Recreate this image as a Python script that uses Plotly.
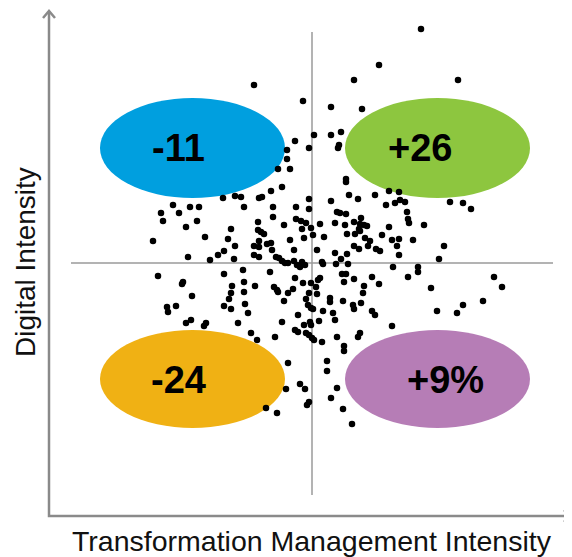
import plotly.graph_objects as go

# Scatter values (horizontal = transformation management intensity, vertical = digital intensity),
# read from the picture in its own pixel-like units, grouped in bands from top to bottom.
band1_x = [421, 379, 354, 458, 254, 303, 331, 362, 314, 331, 341, 295, 309, 339, 338, 287]
band1_y = [29, 65, 80, 80, 85, 101, 107, 109, 135, 135, 132, 141, 148, 145, 148, 150]

band2_x = [287, 278, 290, 346, 346, 282, 271, 349, 375, 389, 399, 262, 223, 235, 241, 259, 309, 358, 331, 400,
           405, 395, 386, 450, 463, 471]
band2_y = [159, 169, 169, 179, 182, 187, 191, 195, 195, 191, 192, 197, 198, 196, 197, 198, 199, 199, 201, 200,
           202, 203, 205, 202, 203, 209]

band3_x = [173, 190, 199, 244, 273, 296, 309, 161, 179, 163, 197, 186, 231, 337, 340, 346, 407, 408, 409, 273,
           258, 296, 301, 306, 284, 320, 335, 345, 354, 361, 360, 364, 367, 424, 389, 311, 359]
band3_y = [205, 207, 207, 207, 207, 207, 209, 213, 213, 221, 221, 227, 229, 212, 213, 214, 212, 219, 223, 217,
           222, 219, 221, 223, 225, 224, 223, 225, 222, 218, 224, 225, 226, 225, 227, 228, 229]

band4_x = [258, 261, 264, 302, 360, 153, 205, 228, 259, 290, 304, 313, 324, 347, 355, 365, 370, 382, 392, 399,
           413, 235, 254, 259, 267, 271, 224, 218, 272, 294, 317, 397, 354, 359, 368, 376, 380, 444, 335, 347,
           399, 188, 210, 234, 254, 259, 341, 439]
band4_y = [230, 232, 234, 229, 231, 241, 237, 239, 241, 240, 238, 235, 237, 234, 234, 238, 241, 235, 240, 239,
           240, 246, 246, 247, 244, 243, 251, 255, 250, 250, 250, 246, 246, 249, 246, 249, 251, 246, 253, 254,
           255, 257, 260, 259, 255, 257, 259, 259]

band5_x = [276, 279, 282, 285, 288, 294, 297, 302, 305, 300]
band5_y = [257, 258, 261, 263, 263, 261, 265, 262, 265, 267]

band6_x = [322, 323, 336, 348, 393, 418, 418, 158, 224, 243, 270, 295, 320, 318, 342, 346, 354, 372, 408, 494]
band6_y = [262, 264, 264, 264, 267, 267, 272, 276, 274, 270, 272, 278, 278, 280, 274, 274, 279, 277, 277, 277]

band7_x = [182, 183, 192, 167, 168, 176, 232, 244, 255, 231, 244, 229, 224, 231, 245, 248, 274, 277, 278, 288,
           293, 303, 311, 316, 344, 364, 379, 363, 309, 317, 284, 306, 330, 330, 343, 353, 354, 361, 308, 311,
           313, 323, 333, 298, 335, 372, 375, 437, 457, 463, 483, 502, 431]
band7_y = [284, 282, 296, 307, 312, 306, 286, 282, 286, 293, 292, 299, 306, 309, 304, 313, 287, 290, 292, 293,
           289, 283, 283, 287, 282, 286, 284, 293, 293, 294, 301, 299, 298, 302, 301, 305, 309, 303, 305, 308,
           309, 311, 313, 315, 320, 311, 315, 311, 313, 305, 301, 287, 288]

band8_x = [186, 191, 206, 204, 238, 282, 319, 310, 311, 304, 295, 298, 306, 309, 312, 314, 322, 251, 257, 275,
           337, 360, 358, 392]
band8_y = [323, 320, 323, 326, 323, 322, 321, 322, 325, 325, 330, 332, 333, 335, 338, 340, 342, 333, 340, 337,
           337, 333, 337, 326]

band9_x = [344, 344, 288, 327, 327, 300, 305, 286, 337, 331, 307, 309, 277, 266, 343, 352]
band9_y = [346, 351, 363, 361, 371, 384, 389, 389, 388, 398, 405, 402, 413, 408, 409, 424]

quadrant_labels = ["-11", "+26", "-24", "+9%"]
x_title = "Transformation Management Intensity"
y_title = "Digital Intensity"

xs = band1_x + band2_x + band3_x + band4_x + band5_x + band6_x + band7_x + band8_x + band9_x
ys = band1_y + band2_y + band3_y + band4_y + band5_y + band6_y + band7_y + band8_y + band9_y
assert len(xs) == len(ys)

# the page body has an 8px margin: the figure starts at (8, 8) in the window
OFF = 8
W, H = 572, 557

fig = go.Figure()
fig.add_trace(go.Scatter(
    x=xs, y=ys, mode="markers",
    marker=dict(size=6.5, color="#000000", line=dict(width=0)),
    hoverinfo="skip", showlegend=False,
))

axis_col = "#8a8a8a"
quad_col = "#9a9a9a"
shapes = []
shapes.append(dict(type="line", x0=312, x1=312, y0=32, y1=495, line=dict(color=quad_col, width=1.5), layer="below"))
shapes.append(dict(type="line", x0=71, x1=553, y0=263, y1=263, line=dict(color=quad_col, width=1.5), layer="below"))
ell = [
    (100, 285, 98, 198, "#009FDF"),
    (345, 530, 98, 198, "#8DC63F"),
    (100, 285, 330, 428, "#F0B114"),
    (345, 530, 330, 428, "#B67DB6"),
]
for x0, x1, y0, y1, c in ell:
    shapes.append(dict(type="circle", x0=x0, x1=x1, y0=y0, y1=y1, fillcolor=c,
                       line=dict(width=0), layer="below"))
shapes.append(dict(type="path", path="M 49 12 L 49 516 L 570 516", line=dict(color=axis_col, width=2.5),
                   layer="below"))
shapes.append(dict(type="path", path="M 43 18 L 49 11 L 55 18", line=dict(color=axis_col, width=2.5),
                   layer="below"))
shapes.append(dict(type="path", path="M 564 510 L 571 516 L 564 522", line=dict(color=axis_col, width=2.5),
                   layer="below"))

label_pos = [(178, 148), (420, 148), (178, 380), (445, 380)]
annotations = []
for (lx, ly), t in zip(label_pos, quadrant_labels):
    annotations.append(dict(x=lx, y=ly, xref="x", yref="y", text="<b>" + t + "</b>", showarrow=False,
                            font=dict(family="Liberation Sans, Arial, sans-serif", size=38, color="#000000"),
                            xanchor="center", yanchor="middle"))
annotations.append(dict(x=312, y=541, xref="x", yref="y", text=x_title, showarrow=False,
                        font=dict(family="Liberation Sans, Arial, sans-serif", size=28.5, color="#111111"),
                        xanchor="center", yanchor="middle"))
annotations.append(dict(x=25, y=262, xref="x", yref="y", text=y_title, showarrow=False, textangle=-90,
                        font=dict(family="Liberation Sans, Arial, sans-serif", size=28, color="#111111"),
                        xanchor="center", yanchor="middle"))

fig.update_layout(
    width=W - OFF, height=H - OFF,
    margin=dict(l=0, r=0, t=0, b=0),
    paper_bgcolor="white", plot_bgcolor="white",
    xaxis=dict(range=[OFF, W], visible=False, fixedrange=True),
    yaxis=dict(range=[H, OFF], visible=False, fixedrange=True),
    shapes=shapes, annotations=annotations, showlegend=False,
)

fig.write_html("out.html", config={"displayModeBar": False})
